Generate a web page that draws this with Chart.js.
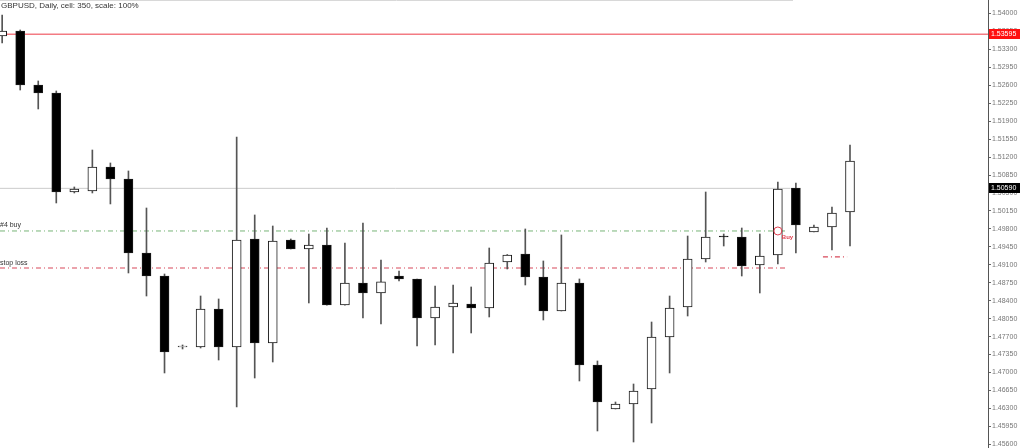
<!DOCTYPE html>
<html>
<head>
<meta charset="utf-8">
<script src="https://cdn.jsdelivr.net/npm/chart.js@4/dist/chart.umd.min.js"></script>
<style>
html, body { margin: 0; padding: 0; background: #fff; }
#wrap { position: relative; width: 1020px; height: 448px; }
</style>
</head>
<body>
<div id="wrap"><canvas id="chart" width="1020" height="448"></canvas></div>
<script>
// GBPUSD daily candles
var title = 'GBPUSD, Daily, cell: 350, scale: 100%';

var opens = [1.53561, 1.53659, 1.52606, 1.52450, 1.50519, 1.50539, 1.51007, 1.50773, 1.49330, 1.48881,
             1.47497, 1.47497, 1.48238, 1.47497, 1.49603, 1.47575, 1.49583, 1.49408, 1.49486, 1.48316,
             1.48745, 1.48550, 1.48881, 1.48823, 1.48062, 1.48277, 1.48335, 1.48257, 1.49154, 1.49310,
             1.48862, 1.48199, 1.48745, 1.47146, 1.46288, 1.46385, 1.46678, 1.47692, 1.48277, 1.49213,
             1.49661, 1.49642, 1.49096, 1.49291, 1.50597, 1.49739, 1.49837, 1.50130];
var highs = [1.53971, 1.53678, 1.52684, 1.52489, 1.50617, 1.51338, 1.51085, 1.50929, 1.50207, 1.48920,
             1.47536, 1.48491, 1.48433, 1.51592, 1.50071, 1.49856, 1.49603, 1.49700, 1.49817, 1.49525,
             1.49915, 1.49193, 1.48979, 1.48823, 1.48686, 1.48706, 1.48667, 1.49427, 1.49300, 1.49798,
             1.49174, 1.49681, 1.48823, 1.47224, 1.46424, 1.46775, 1.47984, 1.48491, 1.49661, 1.50519,
             1.49700, 1.49817, 1.49700, 1.50714, 1.50695, 1.49876, 1.50227, 1.51436];
var lows  = [1.53425, 1.52508, 1.52138, 1.50305, 1.50500, 1.50500, 1.50286, 1.48940, 1.48491, 1.46990,
             1.47458, 1.47477, 1.47243, 1.46327, 1.46892, 1.47204, 1.49408, 1.48355, 1.48310, 1.48310,
             1.48062, 1.47945, 1.48784, 1.47517, 1.47536, 1.47380, 1.47770, 1.48082, 1.49018, 1.48706,
             1.48023, 1.48199, 1.46834, 1.45859, 1.46288, 1.45644, 1.46015, 1.46990, 1.48101, 1.49154,
             1.49466, 1.48881, 1.48550, 1.49115, 1.49330, 1.49739, 1.49388, 1.49466];
var closes = [1.53659, 1.52606, 1.52450, 1.50519, 1.50578, 1.51007, 1.50773, 1.49330, 1.48881, 1.47399,
              1.47510, 1.48238, 1.47497, 1.49583, 1.47575, 1.49564, 1.49408, 1.49486, 1.48316, 1.48745,
              1.48550, 1.48765, 1.48823, 1.48062, 1.48277, 1.48355, 1.48257, 1.49135, 1.49291, 1.48862,
              1.48199, 1.48745, 1.47146, 1.46424, 1.46385, 1.46639, 1.47692, 1.48257, 1.49213, 1.49642,
              1.49642, 1.49076, 1.49271, 1.50578, 1.49876, 1.49837, 1.50110, 1.51124];

// right-hand price scale
var tickValues = [1.45600, 1.45950, 1.46300, 1.46650, 1.47000, 1.47350, 1.47700, 1.48050, 1.48400,
                  1.48750, 1.49100, 1.49450, 1.49800, 1.50150, 1.50500, 1.50850, 1.51200, 1.51550,
                  1.51900, 1.52250, 1.52600, 1.52950, 1.53300, 1.53650, 1.54000];
var priceMin = 1.45527;
var priceMax = 1.54263;

// horizontal levels
var askLevel = 1.53595;
var lastLevel = 1.50590;
var buyLevel = 1.49759;
var stopLevel = 1.49037;
var stop2Level = 1.49252;
var buyIndex = 43;

var xMin = -0.12, xMax = 54.65;

var bodies = opens.map(function (o, i) { return { x: i, y: [o, closes[i]] }; });
var wicks = lows.map(function (l, i) { return { x: i, y: [l, highs[i]] }; });
var bodyColors = opens.map(function (o, i) { return closes[i] >= o ? '#ffffff' : '#000000'; });

function hline(v, from, to) {
    return [{ x: from, y: v }, { x: to, y: v }];
}

function noPad(scale) {
    scale.paddingTop = 0;
    scale.paddingBottom = 0;
    scale.paddingLeft = 0;
    scale.paddingRight = 0;
}

var overlay = {
    id: 'overlay',
    afterDraw: function (chart) {
        var ctx = chart.ctx;
        var ys = chart.scales.y, xs = chart.scales.x;
        ctx.save();
        // top border strip
        ctx.strokeStyle = '#d8d8d8';
        ctx.lineWidth = 1;
        ctx.beginPath();
        ctx.moveTo(0, 0.5);
        ctx.lineTo(793, 0.5);
        ctx.stroke();

        ctx.fillStyle = '#333';
        ctx.font = '8px "Liberation Sans", Arial';
        ctx.textBaseline = 'top';
        ctx.textAlign = 'left';
        ctx.fillText(title, 1, 2);

        ctx.font = '7px "Liberation Sans", Arial';
        ctx.textBaseline = 'bottom';
        ctx.fillText('#4 buy', 0, ys.getPixelForValue(buyLevel) - 2);
        ctx.fillText('stop loss', 0, ys.getPixelForValue(stopLevel) - 1);

        ctx.fillStyle = '#e04050';
        ctx.font = 'bold 6px "Liberation Sans", Arial';
        ctx.textBaseline = 'top';
        ctx.fillText('Buy', xs.getPixelForValue(buyIndex) + 4, ys.getPixelForValue(buyLevel) + 3);

        // price tags on the axis
        var tags = [[askLevel, '#ff1010'], [lastLevel, '#000000']];
        ctx.font = '7px "Liberation Sans", Arial';
        ctx.textBaseline = 'middle';
        tags.forEach(function (t) {
            var py = ys.getPixelForValue(t[0]);
            ctx.fillStyle = t[1];
            ctx.fillRect(989, Math.round(py) - 5, 31, 10);
            ctx.fillStyle = '#ffffff';
            ctx.fillText(t[0].toFixed(5), 991, py);
        });
        ctx.restore();
    }
};

var chart = new Chart(document.getElementById('chart'), {
    type: 'bar',
    data: {
        datasets: [{
            type: 'bar',
            data: bodies,
            backgroundColor: bodyColors,
            borderColor: '#1a1a1a',
            borderWidth: 1,
            borderSkipped: false,
            barThickness: 9,
            minBarLength: 1,
            grouped: false,
            order: 0
        }, {
            type: 'bar',
            data: wicks,
            backgroundColor: '#555555',
            borderWidth: 0,
            barThickness: 1,
            grouped: false,
            order: 1
        }, {
            type: 'scatter',
            data: [{ x: buyIndex, y: buyLevel }],
            pointRadius: 4,
            pointBorderWidth: 1,
            pointBorderColor: '#e04050',
            pointBackgroundColor: 'rgba(255,255,255,0)',
            order: -1
        }, {
            type: 'line',
            data: hline(askLevel, xMin, xMax),
            borderColor: 'rgba(240,90,100,0.8)',
            borderWidth: 1.4,
            pointRadius: 0,
            order: 2
        }, {
            type: 'line',
            data: hline(lastLevel, xMin, 43.7),
            borderColor: '#cccccc',
            borderWidth: 1,
            pointRadius: 0,
            order: 2
        }, {
            type: 'line',
            data: hline(buyLevel, xMin, 43.5),
            borderColor: '#78b478',
            borderWidth: 1,
            borderDash: [5, 3, 1, 3],
            pointRadius: 0,
            order: 2
        }, {
            type: 'line',
            data: hline(stopLevel, xMin, 43.5),
            borderColor: '#d8485a',
            borderWidth: 1.2,
            borderDash: [5, 3, 1, 3],
            pointRadius: 0,
            order: 2
        }, {
            type: 'line',
            data: hline(stop2Level, 45.5, 46.84),
            borderColor: '#d8485a',
            borderWidth: 1.2,
            borderDash: [5, 3, 1, 3],
            pointRadius: 0,
            order: 2
        }]
    },
    options: {
        responsive: false,
        animation: false,
        devicePixelRatio: 1,
        layout: { padding: 0, autoPadding: false },
        plugins: {
            legend: { display: false },
            tooltip: { enabled: false }
        },
        scales: {
            x: {
                type: 'linear',
                display: false,
                offset: false,
                bounds: 'data',
                min: xMin,
                max: xMax,
                grid: { offset: false },
                afterFit: noPad
            },
            y: {
                position: 'right',
                min: priceMin,
                max: priceMax,
                afterBuildTicks: function (scale) {
                    scale.ticks = tickValues.map(function (v) { return { value: v }; });
                },
                afterFit: function (scale) {
                    scale.width = 32;
                    noPad(scale);
                },
                grid: {
                    drawOnChartArea: false,
                    tickLength: 3,
                    color: '#666'
                },
                border: { display: true, color: '#555' },
                ticks: {
                    autoSkip: false,
                    padding: 1,
                    color: '#777',
                    font: { family: '"Liberation Sans", Arial', size: 7 },
                    callback: function (v) { return Number(v).toFixed(5); }
                }
            }
        }
    },
    plugins: [overlay]
});
</script>
</body>
</html>
